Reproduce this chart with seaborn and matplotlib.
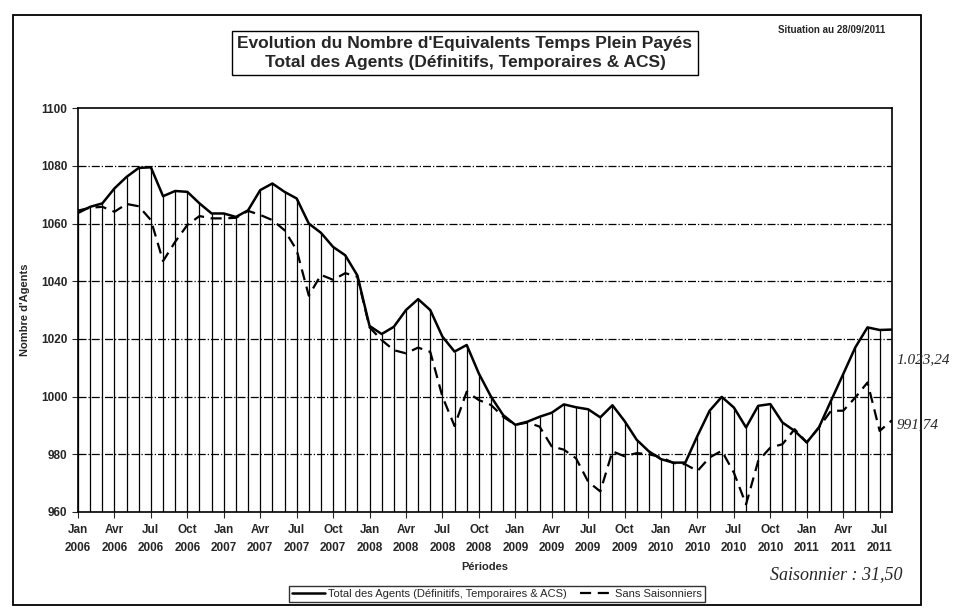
import numpy as np
import pandas as pd
import matplotlib
matplotlib.use("Agg")
import matplotlib.pyplot as plt
import seaborn as sns
from matplotlib.patches import Rectangle

# monthly values Jan 2006 .. Aug 2011
total = [1063.7, 1065.8, 1067.0, 1072.2, 1076.2, 1079.3, 1079.5, 1069.5, 1071.3, 1071.0,
         1067.0, 1063.5, 1063.5, 1062.3, 1064.6, 1071.6, 1073.9, 1071.0, 1068.7, 1060.0,
         1056.8, 1051.9, 1049.0, 1042.0, 1024.5, 1021.7, 1024.2, 1030.0, 1033.8, 1030.0,
         1020.8, 1015.6, 1017.9, 1008.0, 1000.0, 993.6, 990.2, 991.3, 993.0, 994.4,
         997.3, 996.3, 995.6, 992.8, 997.0, 991.5, 985.0, 981.0, 978.3, 977.1,
         977.1, 986.4, 995.1, 999.9, 996.2, 989.3, 996.8, 997.4, 991.0, 988.1,
         984.1, 989.3, 998.6, 1007.8, 1017.1, 1024.0, 1023.1, 1023.24]
sans_saison = [1064.5, 1065.5, 1065.8, 1064.1, 1066.8, 1066.0, 1061.2, 1047.0, 1053.7, 1059.5,
               1062.6, 1061.8, 1061.8, 1062.0, 1064.4, 1063.0, 1061.2, 1057.7, 1050.8, 1035.0,
               1042.2, 1040.5, 1042.8, 1041.6, 1024.0, 1019.6, 1016.1, 1015.0, 1017.0, 1015.5,
               1000.0, 989.8, 1001.7, 998.8, 997.1, 993.0, 990.2, 991.0, 989.6, 982.7,
               981.6, 978.6, 970.5, 967.1, 981.0, 979.3, 980.4, 980.0, 979.0, 977.0,
               976.5, 974.2, 978.9, 981.2, 973.6, 962.6, 977.7, 982.3, 983.5, 988.7,
               984.1, 989.3, 995.1, 995.1, 999.7, 1004.9, 988.1, 991.74]
month_names = ["Jan", "Avr", "Jul", "Oct"]
years = [2006, 2007, 2008, 2009, 2010, 2011]

months = np.arange(len(total))
tick_pos = months[::3]
tick_labels = [f"{month_names[(p // 3) % 4]}\n{years[0] + p // 12}" for p in tick_pos]

df = pd.DataFrame({"mois": months, "total": total, "sans": sans_saison})

sns.set_style("white")
plt.rcParams["font.family"] = ["Liberation Sans", "DejaVu Sans"]

fig = plt.figure(figsize=(9.54, 6.08), dpi=100)
ax = fig.add_axes([0.0818, 0.158, 0.853, 0.664])

# drop lines from the total curve
ax.vlines(df["mois"], 960, df["total"], color="black", lw=0.9, zorder=1)
sns.lineplot(data=df, x="mois", y="total", ax=ax, color="black", lw=1.8,
             label="Total des Agents (Définitifs, Temporaires & ACS)", zorder=3)
sns.lineplot(data=df, x="mois", y="sans", ax=ax, color="black", lw=1.6,
             linestyle=(0, (5, 3)), label="Sans Saisonniers", zorder=3)

ax.set_xlim(0, len(total) - 1)
ax.set_ylim(960, 1100)
ax.set_yticks(np.arange(960, 1101, 20))
ax.set_xticks(tick_pos)
ax.set_xticklabels(tick_labels, fontsize=8.5, fontweight="bold", linespacing=1.6)
ax.tick_params(axis="y", labelsize=8.5, length=4, direction="out", left=True)
ax.tick_params(axis="x", length=4, direction="out", bottom=True, pad=5)
for lab in ax.get_yticklabels():
    lab.set_fontweight("bold")
for y in np.arange(980, 1100, 20):
    ax.axhline(y, color="black", lw=0.9, linestyle="-.", zorder=0)
for s in ax.spines.values():
    s.set_color("black")
    s.set_linewidth(1.2)

ax.set_xlabel("Périodes", fontsize=8, fontweight="bold", labelpad=6)
ax.set_ylabel("Nombre d'Agents", fontsize=8, fontweight="bold", labelpad=8)

leg = ax.legend(loc="center", bbox_to_anchor=(497 / 954, 1 - 594 / 608),
                bbox_transform=fig.transFigure, ncol=2, fontsize=8, frameon=True,
                fancybox=False, handlelength=3.0, columnspacing=1.2,
                borderpad=0.3, handletextpad=0.2)
leg.get_frame().set_edgecolor("black")
leg.get_frame().set_linewidth(1.0)

# outer frame and title box
fig.patches.append(Rectangle((13 / 954, 1 - 605 / 608), 908 / 954, 590 / 608,
                             transform=fig.transFigure, fill=False, ec="black", lw=1.3))
fig.text(465 / 954, 1 - 53 / 608,
         "Evolution du Nombre d'Equivalents Temps Plein Payés\nTotal des Agents (Définitifs, Temporaires & ACS)",
         ha="center", va="center", fontsize=12.5, fontweight="bold", linespacing=1.3,
         bbox=dict(boxstyle="square,pad=0.3", fc="white", ec="black", lw=1.0))
fig.text(832 / 954, 1 - 30 / 608, "Situation au 28/09/2011", ha="center", va="center",
         fontsize=7, fontweight="bold")

# handwritten notes
fig.text(896 / 954, 1 - 360 / 608, "1.023,24", ha="left", va="center",
         fontsize=11, family="Liberation Serif", style="italic")
fig.text(897 / 954, 1 - 425 / 608, "991,74", ha="left", va="center",
         fontsize=11, family="Liberation Serif", style="italic")
fig.text(770 / 954, 1 - 575 / 608, "Saisonnier : 31,50", ha="left", va="center",
         fontsize=13, family="Liberation Serif", style="italic")

fig.savefig("out.png", dpi=100)
